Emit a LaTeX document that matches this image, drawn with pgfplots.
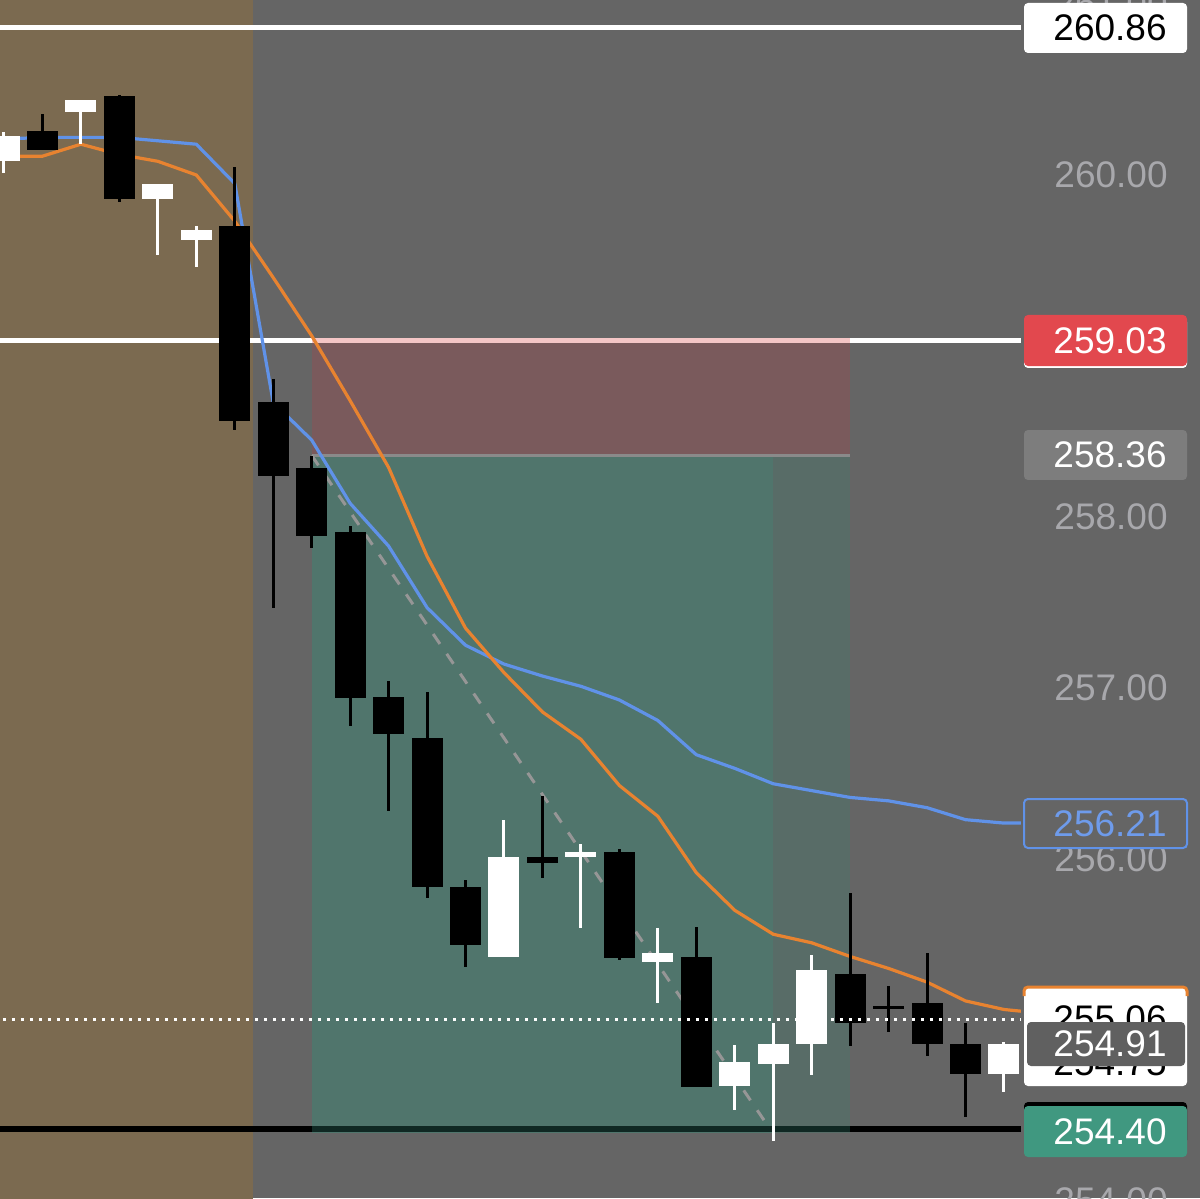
\documentclass[border=0pt]{standalone}
\usepackage{fontspec}
\setmainfont{Liberation Sans}
\usepackage{pgfplots}
\usepackage{pgfplotstable}
\pgfplotsset{compat=1.18}

\definecolor{bg}{RGB}{101,101,101}
\definecolor{brownreg}{RGB}{123,106,80}
\definecolor{redzone}{RGB}{122,90,92}
\definecolor{greenzone}{RGB}{80,117,108}
\definecolor{greenzone2}{RGB}{88,108,103}
\definecolor{pinkline}{RGB}{244,198,198}
\definecolor{zoneline}{RGB}{138,138,138}
\definecolor{tealline}{RGB}{16,40,35}
\definecolor{emablue}{RGB}{96,146,232}
\definecolor{emaorange}{RGB}{232,131,48}
\definecolor{dashgray}{RGB}{150,150,150}
\definecolor{ticklbl}{RGB}{168,168,172}
\definecolor{lblred}{RGB}{226,72,78}
\definecolor{lblgray}{RGB}{125,125,125}
\definecolor{lbldark}{RGB}{96,96,96}
\definecolor{lblgreen}{RGB}{64,152,128}
\definecolor{lblbluetext}{RGB}{110,155,235}

\newcommand{\lblfont}{\fontsize{18.5}{20}\selectfont}

% black (falling) candles: index, open, high, low, close
\pgfplotstableread{
i o h l c
1 260.26 260.36 260.15 260.15
3 260.46 260.47 259.84 259.86
6 259.70 260.05 258.51 258.56
7 258.67 258.81 257.47 258.24
8 258.29 258.36 257.82 257.89
9 257.91 257.95 256.78 256.94
10 256.95 257.04 256.28 256.73
11 256.71 256.98 255.77 255.84
12 255.84 255.88 255.37 255.50
14 256.01 256.37 255.89 255.98
16 256.04 256.06 255.41 255.42
18 255.43 255.60 254.67 254.67
22 255.33 255.80 254.91 255.04
23 255.14 255.26 254.99 255.12
24 255.16 255.45 254.85 254.92
25 254.92 255.04 254.49 254.74
}\blackc

% white (rising) candles
\pgfplotstableread{
i o h l c
0 260.08 260.25 260.01 260.23
2 260.37 260.44 260.18 260.44
4 259.86 259.95 259.53 259.95
5 259.62 259.70 259.46 259.68
13 255.43 256.23 255.43 256.01
15 256.01 256.09 255.60 256.04
17 255.40 255.60 255.16 255.45
19 254.67 254.91 254.53 254.81
20 254.80 255.04 254.35 254.92
21 254.92 255.44 254.74 255.35
26 254.74 254.93 254.64 254.92
}\whitec

\begin{document}
\begin{tikzpicture}
\begin{axis}[
  set layers,
  scale only axis, width=600pt, height=599pt,
  xmin=-0.104, xmax=31.097, ymin=254.0175, ymax=261.0234,
  axis background/.style={fill=bg},
  axis line style={draw=none},
  xtick=\empty,
  ytick={254,255,256,257,258,259,260,261},
  major tick length=0pt,
  ytick style={draw=none},
  yticklabel pos=right,
  scaled y ticks=false,
  /pgf/number format/assume math mode=true,
  yticklabel style={anchor=east, xshift=-16pt, inner sep=0pt, text=ticklbl,
    font=\lblfont, /pgf/number format/fixed, /pgf/number format/fixed zerofill,
    /pgf/number format/precision=2},
  candle/.style={draw=none, mark=none, forget plot,
    error bars/y dir=both, error bars/y explicit, error bars/error mark=none},
]
% shaded regions
\fill[brownreg] (axis cs:-0.5,253.9) rectangle (axis cs:6.474,261.1);
\fill[redzone] (axis cs:8,258.36) rectangle (axis cs:22,259.03);
\fill[greenzone] (axis cs:8,254.40) rectangle (axis cs:20,258.36);
\fill[greenzone2] (axis cs:20,254.40) rectangle (axis cs:22,258.36);

% horizontal price lines
\addplot[white, line width=2.5pt, forget plot] coordinates {(-0.5,260.86) (26.44,260.86)};
\addplot[white, line width=2.5pt, forget plot] coordinates {(-0.5,259.03) (26.44,259.03)};
\addplot[pinkline, line width=2.5pt, forget plot] coordinates {(8,259.03) (22,259.03)};
\addplot[zoneline, line width=1.4pt, forget plot] coordinates {(8,258.36) (22,258.36)};
\addplot[black, line width=2.8pt, forget plot] coordinates {(-0.5,254.42) (26.44,254.42)};
\addplot[tealline, line width=2.8pt, forget plot] coordinates {(8,254.42) (22,254.42)};

% projected path
\addplot[dashgray, line width=1.5pt, dash pattern=on 6pt off 6pt, forget plot]
  coordinates {(8,258.36) (19.92,254.42)};

% moving averages
\addplot[emablue, line width=1.6pt, forget plot] coordinates {
(-0.5,260.21) (0,260.21) (1,260.22) (2,260.22) (3,260.22) (4,260.20) (5,260.18) (6,259.95)
(7,258.67) (8,258.45) (9,258.08) (10,257.83) (11,257.47) (12,257.25) (13,257.14)
(14,257.07) (15,257.01) (16,256.93) (17,256.81) (18,256.61) (19,256.53) (20,256.44)
(21,256.40) (22,256.36) (23,256.34) (24,256.30) (25,256.23) (26,256.21) (26.44,256.21)};
\addplot[emaorange, line width=1.6pt, forget plot] coordinates {
(-0.5,260.11) (0,260.11) (1,260.11) (2,260.18) (3,260.12) (4,260.08) (5,260.00) (6,259.73)
(7,259.40) (8,259.06) (9,258.68) (10,258.29) (11,257.77) (12,257.35) (13,257.09)
(14,256.86) (15,256.70) (16,256.43) (17,256.25) (18,255.92) (19,255.70) (20,255.56)
(21,255.51) (22,255.43) (23,255.36) (24,255.28) (25,255.17) (26,255.12) (26.44,255.11)};

% candles: wicks then bodies
\addplot[candle, error bars/error bar style={line width=1.5pt, draw=black}]
  table[x=i, y expr={(\thisrow{h}+\thisrow{l})/2}, y error expr={(\thisrow{h}-\thisrow{l})/2}] {\blackc};
\addplot[candle, error bars/error bar style={line width=15.5pt, draw=black}]
  table[x=i, y expr={(\thisrow{o}+\thisrow{c})/2}, y error expr={abs(\thisrow{o}-\thisrow{c})/2}] {\blackc};
\addplot[candle, error bars/error bar style={line width=1.5pt, draw=white}]
  table[x=i, y expr={(\thisrow{h}+\thisrow{l})/2}, y error expr={(\thisrow{h}-\thisrow{l})/2}] {\whitec};
\addplot[candle, error bars/error bar style={line width=15.5pt, draw=white}]
  table[x=i, y expr={(\thisrow{o}+\thisrow{c})/2}, y error expr={abs(\thisrow{o}-\thisrow{c})/2}] {\whitec};

% current price dotted line
\addplot[white, line width=1.5pt, dash pattern=on 1.5pt off 3pt, forget plot]
  coordinates {(-0.5,255.064) (26.44,255.064)};

% bottom tick label, cut by the lower edge as in the reference
\node[anchor=east, inner sep=0pt, text=ticklbl, font=\lblfont] at (rel axis cs:0.97333,-0.0025) {254.00};

% price labels on the right
\fill[white, rounded corners=2pt] (rel axis cs:0.85333,0.99750) rectangle (rel axis cs:0.98917,0.95576);
\node[anchor=east, inner sep=0pt, text=black, font=\lblfont] at (rel axis cs:0.9725,0.97663) {260.86};

\fill[white, rounded corners=2pt] (rel axis cs:0.85333,0.73456) rectangle (rel axis cs:0.98917,0.69282);
\fill[lblred, rounded corners=2pt] (rel axis cs:0.85333,0.73706) rectangle (rel axis cs:0.98917,0.69449);
\node[anchor=east, inner sep=0pt, text=white, font=\lblfont] at (rel axis cs:0.9725,0.71536) {259.03};

\fill[lblgray, rounded corners=2pt] (rel axis cs:0.85333,0.64107) rectangle (rel axis cs:0.98917,0.59933);
\node[anchor=east, inner sep=0pt, text=white, font=\lblfont] at (rel axis cs:0.9725,0.62020) {258.36};

\filldraw[fill=bg, draw=emablue, line width=1pt, rounded corners=2pt] (rel axis cs:0.85333,0.33306) rectangle (rel axis cs:0.98917,0.29215);
\node[anchor=east, inner sep=0pt, text=lblbluetext, font=\lblfont] at (rel axis cs:0.9725,0.31219) {256.21};

\fill[white, rounded corners=2pt] (rel axis cs:0.85333,0.17696) rectangle (rel axis cs:0.98917,0.09349);
\draw[emaorange, line width=1.5pt, rounded corners=2pt] (rel axis cs:0.85333,0.16861) -- (rel axis cs:0.85333,0.17613) -- (rel axis cs:0.98917,0.17613) -- (rel axis cs:0.98917,0.16861);
\node[anchor=east, inner sep=0pt, text=black, font=\lblfont] at (rel axis cs:0.9725,0.14942) {255.06};
\node[anchor=east, inner sep=0pt, text=black, font=\lblfont] at (rel axis cs:0.9725,0.11269) {254.75};
\fill[lbldark, rounded corners=2pt] (rel axis cs:0.85583,0.14691) rectangle (rel axis cs:0.98750,0.11018);
\node[anchor=east, inner sep=0pt, text=white, font=\lblfont] at (rel axis cs:0.9725,0.12855) {254.91};

\fill[black, rounded corners=2pt] (rel axis cs:0.85333,0.08013) rectangle (rel axis cs:0.98917,0.04500);
\fill[lblgreen, rounded corners=2pt] (rel axis cs:0.85333,0.07679) rectangle (rel axis cs:0.98917,0.03422);
\node[anchor=east, inner sep=0pt, text=white, font=\lblfont] at (rel axis cs:0.9725,0.05509) {254.40};
\end{axis}
\pgfresetboundingbox
\path[use as bounding box] (current axis.south west) rectangle (current axis.north east);
\end{tikzpicture}
\end{document}
